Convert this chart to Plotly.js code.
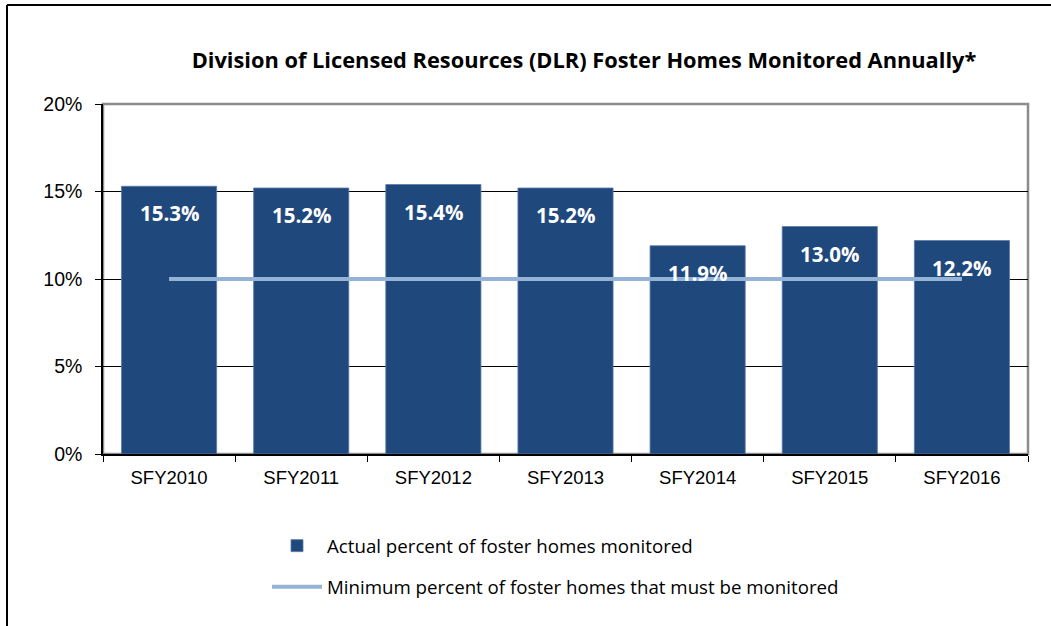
<!DOCTYPE html>
<html>
<head>
<meta charset="utf-8">
<script src="https://cdn.plot.ly/plotly-3.0.1.min.js"></script>
<style>
  html, body { margin: 0; padding: 0; background: #fff; }
  #chart { width: 1051px; height: 626px; }
</style>
</head>
<body>
<div id="chart"></div>
<script>
const categories = ["SFY2010", "SFY2011", "SFY2012", "SFY2013", "SFY2014", "SFY2015", "SFY2016"];
const actualPct = [0.153, 0.152, 0.154, 0.152, 0.119, 0.130, 0.122];
const minimumPct = [0.10, 0.10, 0.10, 0.10, 0.10, 0.10, 0.10];
const yTickVals = [0, 0.05, 0.10, 0.15, 0.20];
const yTickText = ["0%", "5%", "10%", "15%", "20%"];
const titleText = "Division of Licensed Resources (DLR) Foster Homes Monitored Annually*";
const barName = "Actual percent of foster homes monitored";
const lineName = "Minimum percent of foster homes that must be monitored";

const calibriLike = "Open Sans, Lato, Calibri, sans-serif";
const arialLike = "Liberation Sans, Arial, sans-serif";

const PL = 103, PR = 1028, PT = 104, PB = 454;
const PW = PR - PL, PH = PB - PT;
const px2x = v => (v - PL) / PW;
const px2y = v => (PB - v) / PH;

const barTrace = {
  type: "bar",
  x: categories,
  y: actualPct,
  name: barName,
  marker: { color: "#1F497D", line: { color: "#5A7AA6", width: 0.8 } },
  hoverinfo: "x+y",
  legend: "legend"
};

const lineTrace = {
  type: "scatter",
  mode: "lines",
  x: categories,
  y: minimumPct,
  name: lineName,
  line: { color: "#95B3D7", width: 4 },
  legend: "legend2"
};

const labelAnnotations = categories.map((c, i) => ({
  x: c,
  y: actualPct[i],
  xref: "x",
  yref: "y",
  text: (actualPct[i] * 100).toFixed(1) + "%",
  showarrow: false,
  yanchor: "middle",
  yshift: -27,
  font: { family: calibriLike, size: 20.5, color: "#FFFFFF", weight: "bold" }
}));

const layout = {
  width: 1051,
  height: 626,
  margin: { l: PL, r: 1051 - PR, t: PT, b: 626 - PB },
  paper_bgcolor: "#FFFFFF",
  plot_bgcolor: "#FFFFFF",
  title: {
    text: "<b>" + titleText + "</b>",
    font: { family: calibriLike, size: 21.8, color: "#000000" },
    xref: "container",
    yref: "container",
    x: 584 / 1051,
    xanchor: "center",
    y: 1 - 60 / 626,
    yanchor: "middle"
  },
  bargap: 0.28,
  xaxis: {
    type: "category",
    showline: true,
    linecolor: "#000000",
    linewidth: 1.5,
    ticks: "outside",
    tickson: "boundaries",
    ticklen: 6,
    tickcolor: "#000000",
    tickangle: 0,
    ticklabelstandoff: 6,
    tickfont: { family: arialLike, size: 18.5, color: "#000000" },
    showgrid: false,
    zeroline: false,
    automargin: false,
    fixedrange: true
  },
  yaxis: {
    range: [0, 0.2],
    tickvals: yTickVals,
    ticktext: yTickText,
    showline: true,
    linecolor: "#000000",
    linewidth: 1.5,
    ticks: "outside",
    ticklen: 6,
    tickcolor: "#000000",
    ticklabelstandoff: 9,
    tickfont: { family: arialLike, size: 19.5, color: "#000000" },
    showgrid: true,
    gridcolor: "#000000",
    gridwidth: 1,
    zeroline: false,
    automargin: false,
    fixedrange: true
  },
  showlegend: true,
  legend: {
    xref: "paper",
    yref: "paper",
    x: px2x(267),
    y: px2y(546),
    xanchor: "left",
    yanchor: "middle",
    font: { family: calibriLike, size: 18.7, color: "#000000" },
    bgcolor: "rgba(0,0,0,0)",
    itemwidth: 50
  },
  legend2: {
    xref: "paper",
    yref: "paper",
    x: px2x(267),
    y: px2y(587),
    xanchor: "left",
    yanchor: "middle",
    font: { family: calibriLike, size: 18.7, color: "#000000" },
    bgcolor: "rgba(0,0,0,0)",
    itemwidth: 50
  },
  shapes: [
    {
      type: "rect", xref: "paper", yref: "paper",
      x0: 0, x1: 1, y0: 0, y1: 1,
      line: { color: "#8C8C8C", width: 2.5 },
      layer: "below"
    },
    {
      type: "line", xref: "paper", yref: "paper",
      x0: px2x(7), x1: px2x(1053),
      y0: px2y(5), y1: px2y(5),
      line: { color: "#000000", width: 2 }
    },
    {
      type: "line", xref: "paper", yref: "paper",
      x0: px2x(7), x1: px2x(7),
      y0: px2y(5), y1: px2y(640),
      line: { color: "#000000", width: 2 }
    }
  ],
  annotations: labelAnnotations
};

Plotly.newPlot("chart", [barTrace, lineTrace], layout, { displayModeBar: false, responsive: false });
</script>
</body>
</html>
